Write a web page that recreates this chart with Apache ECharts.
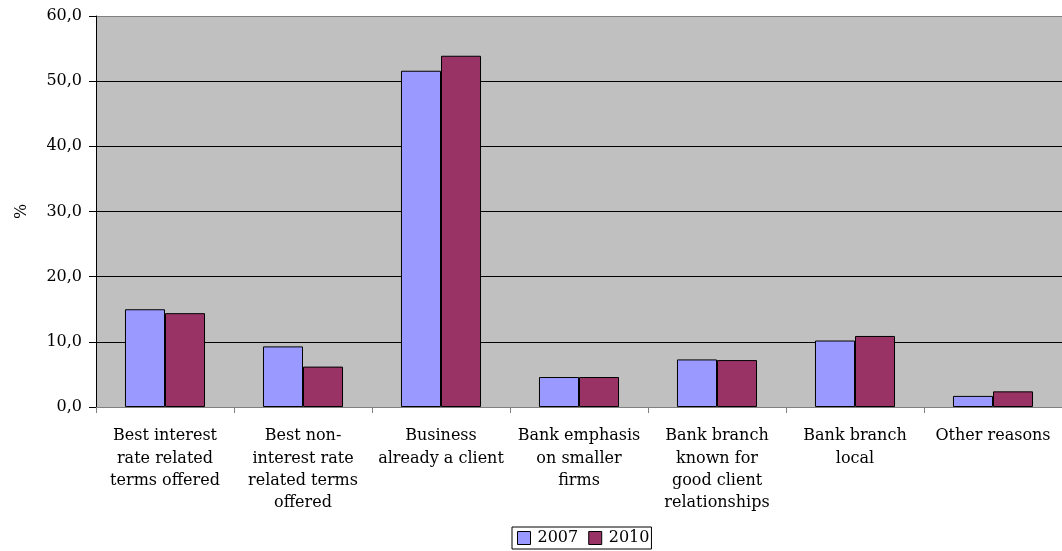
<!DOCTYPE html>
<html>
<head>
<meta charset="utf-8">
<script src="https://cdn.jsdelivr.net/npm/echarts@6/dist/echarts.min.js"></script>
<style>
  html, body { margin: 0; padding: 0; background: #fff; }
  #chart { width: 1062px; height: 551px; }
</style>
</head>
<body>
<div id="chart"></div>
<script>
// Reasons for choosing the main bank, share of firms (%)
const categories = [
  'Best interest\nrate related\nterms offered',
  'Best non-\ninterest rate\nrelated terms\noffered',
  'Business\nalready a client',
  'Bank emphasis\non smaller\nfirms',
  'Bank branch\nknown for\ngood client\nrelationships',
  'Bank branch\nlocal',
  'Other reasons'
];
const values2007 = [15.0, 9.3, 51.6, 4.6, 7.3, 10.2, 1.7];
const values2010 = [14.4, 6.2, 53.9, 4.6, 7.2, 10.9, 2.4];
const seriesNames = ['2007', '2010'];

const FONT = '"DejaVu Serif", "Liberation Serif", serif';
const FS = 16;

const chart = echarts.init(document.getElementById('chart'), null, { renderer: 'canvas' });

chart.setOption({
  animation: false,
  textStyle: { fontFamily: FONT, color: '#000' },
  grid: {
    left: 96, right: 0, top: 16, bottom: 144,
    show: true, backgroundColor: '#C0C0C0', borderWidth: 0
  },
  legend: {
    data: seriesNames,
    left: 512, top: 527,
    orient: 'horizontal',
    icon: 'rect',
    itemWidth: 13, itemHeight: 13, itemGap: 10,
    padding: [3, 2, 3, 5],
    borderColor: '#000', borderWidth: 1,
    textStyle: { fontFamily: FONT, fontSize: FS, color: '#000', padding: [0, 0, 0, 2] },
    itemStyle: { borderColor: '#000', borderWidth: 1 }
  },
  xAxis: {
    type: 'category',
    data: categories,
    axisLine: { show: true, lineStyle: { color: '#808080', width: 1 } },
    axisTick: { show: true, length: 6, lineStyle: { color: '#808080' } },
    axisLabel: {
      interval: 0, fontFamily: FONT, fontSize: FS, color: '#000',
      lineHeight: 22.3, margin: 18, align: 'center'
    },
    splitLine: { show: false }
  },
  yAxis: {
    type: 'value',
    min: 0, max: 60, interval: 10,
    name: '%',
    nameLocation: 'middle',
    nameGap: 66,
    nameRotate: 90,
    nameTextStyle: { fontFamily: FONT, fontSize: FS, color: '#000' },
    axisLine: { show: true, lineStyle: { color: '#000', width: 1 } },
    axisTick: { show: true, length: 7, lineStyle: { color: '#000' } },
    axisLabel: {
      fontFamily: FONT, fontSize: FS, color: '#000', margin: 14,
      formatter: v => v.toFixed(1).replace('.', ',')
    },
    splitLine: {
      show: true,
      lineStyle: { color: ['#808080', '#000', '#000', '#000', '#000', '#000', '#808080'], width: 1 }
    }
  },
  series: [
    {
      name: seriesNames[0], type: 'bar', data: values2007,
      barGap: '0%', barCategoryGap: '42%',
      itemStyle: { color: '#9999FF', borderColor: '#000', borderWidth: 1 }
    },
    {
      name: seriesNames[1], type: 'bar', data: values2010,
      barGap: '0%', barCategoryGap: '42%',
      itemStyle: { color: '#993366', borderColor: '#000', borderWidth: 1 }
    }
  ]
});
</script>
</body>
</html>
